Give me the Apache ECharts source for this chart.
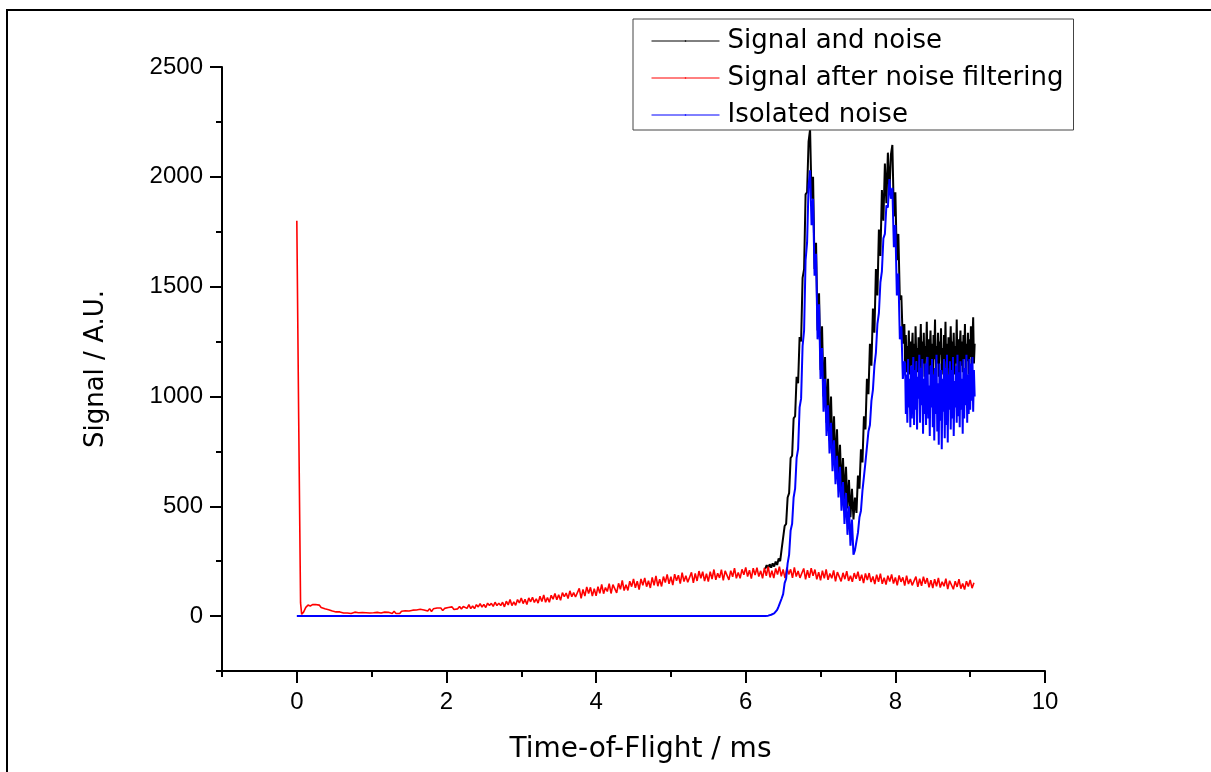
<!DOCTYPE html>
<html>
<head>
<meta charset="utf-8">
<title>Time-of-Flight signal</title>
<script src="https://cdn.jsdelivr.net/npm/echarts@6/dist/echarts.min.js"></script>
<style>
  html, body { margin: 0; padding: 0; background: #fff; }
  #chart { width: 1211px; height: 772px; }
</style>
</head>
<body>
<div id="chart"></div>
<script>
// ---- axis ticks ----
const xTickValues = [0, 2, 4, 6, 8, 10];
const xMinorTicks = [-1, 1, 3, 5, 7, 9];
const yTickValues = [0, 500, 1000, 1500, 2000, 2500];
const yMinorTicks = [-250, 250, 750, 1250, 1750, 2250];

const seriesNames = ['Signal and noise', 'Signal after noise filtering', 'Isolated noise'];
const seriesColors = ['#000000', '#ff0000', '#0000ff'];

// ---- raw signal (signal + noise) ----
// peaks: every 0.02 ms from 6.26 ms to 8.12 ms
const peakStart = 6.26;
const peakStep = 0.02;
const signalAndNoisePeaks = [
  215, 232, 218, 236, 221, 240, 226, 248, 233, 262,          // 6.26 - 6.44
  250, 305, 310, 410, 420, 540, 560, 720, 730, 900,          // 6.46 - 6.64
  910, 1090, 1060, 1270, 1250, 1540, 1580, 1920, 1930, 2160, // 6.66 - 6.84
  2215, 1900, 2000, 1580, 1700, 1300, 1470, 1120, 1320, 1000, // 6.86 - 7.04
  1180, 880, 1080, 800, 1000, 730, 910, 670, 850, 610,       // 7.06 - 7.24
  780, 570, 720, 530, 680, 490, 620, 450, 580, 440,          // 7.26 - 7.44
  540, 470, 640, 580, 760, 700, 910, 850, 1080, 1010,        // 7.46 - 7.64
  1240, 1140, 1400, 1290, 1580, 1460, 1760, 1640, 1940, 1800, // 7.66 - 7.84
  2060, 1880, 2110, 1920, 2100, 2145, 1820, 1930, 1620, 1740, // 7.86 - 8.04
  1440, 1460, 1240, 1330                                     // 8.06 - 8.12
];
// tail: every 0.01 ms from 8.13 ms to 9.06 ms
const tailStart = 8.13;
const tailStep = 0.01;
const signalAndNoiseTail = [
  1150, 1280, 1110, 1230, 1170, 1300, 1100, 1250, 1140, 1210, // 8.13 - 8.22
  1290, 1120, 1240, 1090, 1320, 1160, 1220, 1110, 1270, 1130, // 8.23 - 8.32
  1200, 1330, 1100, 1250, 1150, 1290, 1090, 1230, 1180, 1340, // 8.33 - 8.42
  1120, 1260, 1100, 1210, 1300, 1140, 1240, 1080, 1280, 1170, // 8.43 - 8.52
  1350, 1110, 1230, 1150, 1290, 1090, 1250, 1190, 1310, 1120, // 8.53 - 8.62
  1220, 1100, 1280, 1160, 1340, 1110, 1240, 1130, 1270, 1090, // 8.63 - 8.72
  1200, 1320, 1120, 1250, 1170, 1290, 1100, 1230, 1150, 1350, // 8.73 - 8.82
  1130, 1260, 1090, 1220, 1300, 1140, 1250, 1110, 1280, 1170, // 8.83 - 8.92
  1330, 1120, 1240, 1160, 1290, 1100, 1260, 1180, 1320, 1130, // 8.93 - 9.02
  1250, 1360, 1150, 1240                                      // 9.03 - 9.06
];

// ---- isolated noise: flat baseline, then the same grids ----
const noiseBaseline = [[0, 0]];
const isolatedNoisePeaks = [
  0, 1, 2, 5, 6, 10, 12, 21, 28, 44,                         // 6.26 - 6.44
  52, 80, 100, 150, 170, 240, 280, 390, 420, 540,            // 6.46 - 6.64
  580, 720, 760, 950, 990, 1230, 1300, 1620, 1700, 1960,     // 6.66 - 6.84
  2030, 1780, 1900, 1550, 1650, 1260, 1420, 1080, 1220, 930, // 6.86 - 7.04
  1080, 820, 960, 740, 880, 660, 800, 600, 730, 540,         // 7.06 - 7.24
  680, 480, 610, 420, 560, 370, 500, 320, 440, 280,          // 7.26 - 7.44
  300, 340, 380, 450, 480, 570, 570, 700, 700, 840,          // 7.46 - 7.64
  870, 980, 1030, 1140, 1200, 1330, 1380, 1520, 1570, 1720,  // 7.66 - 7.84
  1740, 1870, 1860, 1990, 1900, 1950, 1680, 1780, 1460, 1560, // 7.86 - 8.04
  1260, 1320, 1080, 1160                                     // 8.06 - 8.12
];
const isolatedNoiseTail = [
  1150, 920, 1100, 880, 1170, 950, 1080, 860, 1140, 900,     // 8.13 - 8.22
  1060, 1180, 870, 1120, 940, 1160, 850, 1090, 990, 1190,    // 8.23 - 8.32
  880, 1130, 960, 1170, 830, 1080, 920, 1150, 870, 1110,     // 8.33 - 8.42
  1180, 900, 1050, 820, 1140, 950, 1170, 860, 1100, 800,     // 8.43 - 8.52
  1130, 920, 1190, 840, 1060, 780, 1150, 890, 1120, 760,     // 8.53 - 8.62
  1080, 930, 1170, 810, 1130, 870, 1190, 790, 1100, 940,     // 8.63 - 8.72
  1160, 850, 1120, 900, 1180, 820, 1070, 950, 1140, 880,     // 8.73 - 8.82
  1190, 910, 1110, 860, 1160, 940, 1080, 830, 1170, 900,     // 8.83 - 8.92
  1130, 960, 1190, 880, 1100, 920, 1170, 940, 1150, 980,     // 8.93 - 9.02
  1180, 930, 1120, 1000                                      // 9.03 - 9.06
];

// ---- filtered signal: initial spike, then every 0.025 ms from 0.25 ms ----
const filteredLeadT = [0, 0.025, 0.05, 0.065, 0.09, 0.12, 0.15, 0.18, 0.21];
const filteredLeadV = [1800, 900, 60, 8, 18, 40, 50, 46, 52];
const filteredStart = 0.25;
const filteredStep = 0.025;
const filteredSignal = [
  53, 46, 50, 39, 41, 33, 37, 29, 32, 23, 26, 19, 25, 19, 21, 14, 21, 14, 17, 12,             // 0.25 - 0.725
  12, 18, 9, 15, 9, 16, 11, 15, 8, 14, 8, 15, 10, 17, 10, 14, 11, 18, 10, 17,                 // 0.75 - 1.225
  20, 12, 22, 12, 19, 12, 22, 16, 24, 15, 23, 15, 27, 21, 28, 20, 31, 22, 28, 22,             // 1.25 - 1.725
  23, 34, 21, 33, 24, 37, 28, 37, 25, 35, 26, 39, 30, 42, 30, 39, 33, 44, 32, 44,             // 1.75 - 2.225
  48, 35, 52, 34, 46, 34, 52, 42, 57, 41, 53, 39, 59, 48, 58, 44, 63, 48, 59, 48,             // 2.25 - 2.725
  63, 42, 68, 51, 76, 48, 65, 49, 75, 60, 82, 57, 76, 53, 83, 65, 86, 62, 79, 59,             // 2.75 - 3.225
  90, 66, 96, 63, 85, 63, 95, 77, 103, 74, 97, 72, 107, 88, 105, 80, 115, 88, 107, 87,        // 3.25 - 3.725
  90, 126, 81, 121, 91, 133, 103, 131, 91, 125, 92, 134, 104, 144, 102, 130, 112, 148, 103, 143, // 3.75 - 4.225
  140, 106, 149, 122, 162, 116, 143, 117, 159, 134, 169, 129, 159, 121, 169, 140, 174, 134, 161, 128, // 4.25 - 4.725
  176, 140, 183, 136, 168, 135, 180, 153, 190, 147, 179, 141, 191, 161, 186, 148, 198, 157, 184, 154, // 4.75 - 5.225
  162, 199, 151, 194, 160, 205, 172, 202, 159, 193, 157, 202, 169, 212, 165, 195, 174, 211, 163, 206, // 5.25 - 5.725
  200, 165, 207, 179, 218, 172, 199, 172, 213, 188, 222, 180, 209, 171, 218, 187, 220, 180, 206, 172, // 5.75 - 6.225
  219, 183, 225, 176, 207, 173, 217, 189, 225, 181, 212, 173, 221, 190, 213, 174, 222, 180, 205, 174, // 6.25 - 6.725
  181, 217, 167, 209, 174, 218, 183, 212, 167, 200, 163, 207, 172, 213, 165, 194, 172, 208, 158, 200, // 6.75 - 7.225
  193, 158, 197, 168, 205, 160, 184, 156, 196, 170, 202, 161, 188, 150, 194, 164, 196, 155, 180, 146, // 7.25 - 7.725
  189, 156, 193, 147, 175, 144, 184, 157, 190, 148, 176, 140, 185, 156, 176, 139, 184, 146, 169, 140, // 7.75 - 8.225
  146, 180, 133, 170, 138, 179, 147, 173, 131, 163, 128, 168, 136, 174, 130, 156, 136, 170, 123, 161, // 8.25 - 8.725
  156, 122, 159, 133, 168, 125, 148, 121, 159, 135, 165, 127, 152                              // 8.75 - 9.05
];

// pair a uniformly sampled series with its time stamps
function onGrid(start, step, values) {
  return values.map((v, i) => [Number((start + i * step).toFixed(3)), v]);
}

const rawData = onGrid(peakStart, peakStep, signalAndNoisePeaks)
  .concat(onGrid(tailStart, tailStep, signalAndNoiseTail));
const noiseData = noiseBaseline
  .concat(onGrid(peakStart, peakStep, isolatedNoisePeaks))
  .concat(onGrid(tailStart, tailStep, isolatedNoiseTail));
const filteredData = filteredLeadT.map((t, i) => [t, filteredLeadV[i]])
  .concat(onGrid(filteredStart, filteredStep, filteredSignal));

const TEXT_FONT = 'DejaVu Sans';
const TICK_FONT = 'Liberation Sans';
const AXIS_COLOR = '#000';
const plainNumber = v => String(v);

const chart = echarts.init(document.getElementById('chart'), null, { renderer: 'canvas' });

const option = {
  animation: false,
  backgroundColor: '#fff',
  color: seriesColors,
  grid: {
    left: 222, right: 166, top: 67, bottom: 101,
    containLabel: false,
    outerBoundsMode: 'none'
  },
  legend: {
    orient: 'vertical',
    left: 633,
    top: 19,
    padding: [8, 10, 1, 18],
    itemGap: 9,
    itemWidth: 68,
    itemHeight: 2,
    backgroundColor: '#fff',
    borderColor: '#444',
    borderWidth: 1,
    borderRadius: 0,
    lineStyle: { width: 1 },
    textStyle: { fontFamily: TEXT_FONT, fontSize: 26, color: '#000', lineHeight: 28, padding: [0, 0, 0, 3] },
    data: seriesNames
  },
  xAxis: [
    {
      type: 'value',
      min: -1,
      max: 10,
      name: 'Time-of-Flight / ms',
      nameLocation: 'middle',
      nameGap: 65,
      nameTextStyle: { fontFamily: TEXT_FONT, fontSize: 28, color: '#000', padding: [0, 0, 0, 14] },
      axisLine: { show: true, onZero: false, lineStyle: { color: AXIS_COLOR, width: 2 } },
      axisTick: { show: true, inside: false, length: 12, customValues: xTickValues,
                  lineStyle: { color: AXIS_COLOR, width: 2 } },
      axisLabel: { show: true, margin: 19, customValues: xTickValues, formatter: plainNumber,
                   fontFamily: TICK_FONT, fontSize: 24, color: '#000' },
      splitLine: { show: false }
    },
    {
      type: 'value',
      min: -1,
      max: 10,
      position: 'bottom',
      axisLine: { show: false, onZero: false },
      axisTick: { show: true, inside: false, length: 6, customValues: xMinorTicks,
                  lineStyle: { color: AXIS_COLOR, width: 2 } },
      axisLabel: { show: false },
      splitLine: { show: false }
    }
  ],
  yAxis: [
    {
      type: 'value',
      min: -250,
      max: 2500,
      name: 'Signal / A.U.',
      nameLocation: 'middle',
      nameGap: 113,
      nameRotate: 90,
      nameTextStyle: { fontFamily: TEXT_FONT, fontSize: 26, color: '#000' },
      axisLine: { show: true, onZero: false, lineStyle: { color: AXIS_COLOR, width: 2 } },
      axisTick: { show: true, inside: false, length: 12, customValues: yTickValues,
                  lineStyle: { color: AXIS_COLOR, width: 2 } },
      axisLabel: { show: true, margin: 19, customValues: yTickValues, formatter: plainNumber,
                   fontFamily: TICK_FONT, fontSize: 24, color: '#000' },
      splitLine: { show: false }
    },
    {
      type: 'value',
      min: -250,
      max: 2500,
      position: 'left',
      axisLine: { show: false, onZero: false },
      axisTick: { show: true, inside: false, length: 6, customValues: yMinorTicks,
                  lineStyle: { color: AXIS_COLOR, width: 2 } },
      axisLabel: { show: false },
      splitLine: { show: false }
    }
  ],
  graphic: [
    {
      // frame around the figure
      type: 'rect',
      silent: true,
      shape: { x: 7, y: 10, width: 1400, height: 900 },
      style: { fill: 'none', stroke: '#000', lineWidth: 2 }
    }
  ],
  series: [
    {
      name: seriesNames[0],
      type: 'line',
      xAxisIndex: 0, yAxisIndex: 0,
      data: rawData,
      showSymbol: false, symbol: 'none',
      lineStyle: { color: seriesColors[0], width: 2 },
      itemStyle: { color: seriesColors[0] },
      z: 2
    },
    {
      name: seriesNames[1],
      type: 'line',
      xAxisIndex: 0, yAxisIndex: 0,
      data: filteredData,
      showSymbol: false, symbol: 'none',
      lineStyle: { color: seriesColors[1], width: 1.6 },
      itemStyle: { color: seriesColors[1] },
      z: 3
    },
    {
      name: seriesNames[2],
      type: 'line',
      xAxisIndex: 0, yAxisIndex: 0,
      data: noiseData,
      showSymbol: false, symbol: 'none',
      lineStyle: { color: seriesColors[2], width: 2 },
      itemStyle: { color: seriesColors[2] },
      z: 4
    }
  ]
};

chart.setOption(option);
</script>
</body>
</html>
